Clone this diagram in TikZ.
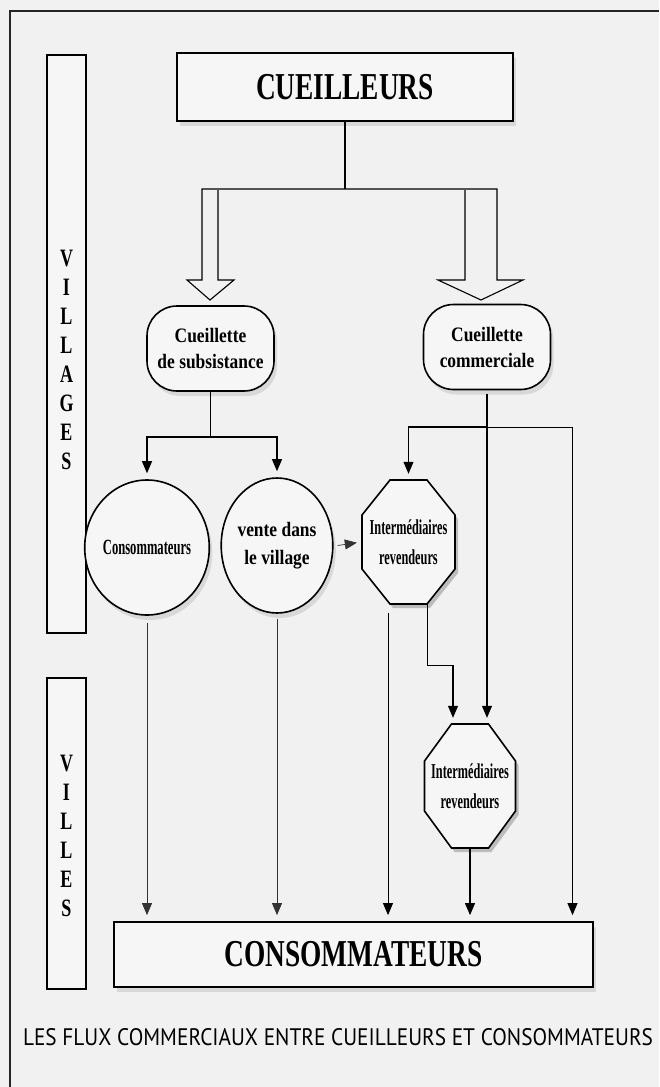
\documentclass[tikz,border=0pt]{standalone}
\usepackage{graphicx}
\usepackage{fontspec}
\setmainfont{Liberation Serif}
\newfontfamily\titlefont[FakeStretch=0.72]{Liberation Serif}
\newfontfamily\midfont[FakeStretch=0.85]{Liberation Serif}
\newfontfamily\narrowfont[FakeStretch=0.58]{Liberation Serif}
\setsansfont{PT Sans}
\usetikzlibrary{arrows.meta,shapes.geometric,shadows,calc}
\definecolor{bgcol}{gray}{0.945}
\definecolor{nodefill}{gray}{0.965}
\begin{document}
\begin{tikzpicture}[x=1pt,y=-1pt,
  shade/.style={drop shadow={shadow xshift=3pt,shadow yshift=-5pt,opacity=0.22}},
  bigbox/.style={draw,line width=1.8pt,fill=nodefill,shade,inner sep=0pt,
    font=\titlefont\bfseries\fontsize{38}{40}\selectfont},
  sidebar/.style={draw,line width=1.8pt,fill=nodefill},
  sidetext/.style={align=center,inner sep=0pt,
    font=\titlefont\bfseries\fontsize{25}{29}\selectfont},
  roundbox/.style={draw,line width=1.6pt,rounded corners=30pt,fill=nodefill,shade,
    minimum width=127pt,minimum height=85pt,align=center,inner sep=0pt,
    font=\midfont\bfseries\fontsize{20.5}{26}\selectfont},
  ovalnode/.style={ellipse,draw,line width=1.6pt,fill=nodefill,shade,
    minimum width=95pt,minimum height=135pt,align=center,inner sep=0pt},
  octnode/.style={minimum width=93pt,minimum height=124pt,align=center,inner sep=0pt,
    font=\narrowfont\bfseries\fontsize{21.2}{30}\selectfont},
  octo/.style={draw,line width=1.6pt,fill=nodefill},
  octshade/.style={fill=black,opacity=0.22},
  blockarrow/.style={line width=1.1pt,line join=miter},
  link/.style={line width=1.1pt},
  flow/.style={line width=1.1pt,-{Triangle[width=10pt,length=12pt]},shorten >=6pt},
  midflow/.style={line width=0.9pt,-{Triangle[width=10pt,length=12pt]},shorten >=6pt},
  thinflow/.style={line width=0.7pt,draw=black!80,-{Triangle[width=10pt,length=12pt]},shorten >=6pt}
]
\fill[bgcol] (0,0) rectangle (659,1087);
\useasboundingbox (0,0) rectangle (659,1087);

% outer frame
\draw[line width=1.3pt,black!85] (10,1087) -- (10,11) -- (659,11);

% side bars
\draw[sidebar] (47,55) rectangle (86,633);
\node[sidetext] (villages) at (66.5,360) {V\\I\\L\\L\\A\\G\\E\\S};
\draw[sidebar] (47,678) rectangle (86,989);
\node[sidetext] (villes) at (66.5,836) {V\\I\\L\\L\\E\\S};

% main boxes
\node[bigbox,minimum width=336pt,minimum height=68pt] (cue) at (345,87) {CUEILLEURS};
\node[bigbox,minimum width=479pt,minimum height=65pt] (cons) at (353.5,954.5) {CONSOMMATEURS};

\node[roundbox] (sub) at (210.5,348.5) {Cueillette\\de subsistance};
\node[roundbox] (com) at (487,347) {Cueillette\\commerciale};

\node[ovalnode,font=\narrowfont\bfseries\fontsize{21.7}{24}\selectfont] (conso) at (147,547.5) {Consommateurs};
\node[ovalnode,minimum width=93pt,font=\midfont\bfseries\fontsize{20.5}{28}\selectfont] (vente) at (277,545.5) {vente dans\\le village};

% octagons
\begin{scope}[shift={(408.5,542)}]
  \fill[octshade,xshift=3pt,yshift=-4pt] (-18.5,-62) -- (18.5,-62) -- (46.5,-27) -- (46.5,27) -- (18.5,62) -- (-18.5,62) -- (-46.5,27) -- (-46.5,-27) -- cycle;
  \draw[octo] (-18.5,-62) -- (18.5,-62) -- (46.5,-27) -- (46.5,27) -- (18.5,62) -- (-18.5,62) -- (-46.5,27) -- (-46.5,-27) -- cycle;
\end{scope}
\node[octnode] (oct1) at (408.5,542) {Intermédiaires\\revendeurs};

\begin{scope}[shift={(470,786)}]
  \fill[octshade,xshift=3pt,yshift=-4pt] (-18.5,-62) -- (18.5,-62) -- (45.5,-25) -- (45.5,25) -- (18.5,62) -- (-18.5,62) -- (-45.5,25) -- (-45.5,-25) -- cycle;
  \draw[octo] (-18.5,-62) -- (18.5,-62) -- (45.5,-25) -- (45.5,25) -- (18.5,62) -- (-18.5,62) -- (-45.5,25) -- (-45.5,-25) -- cycle;
\end{scope}
\node[octnode,minimum width=91pt] (oct2) at (470,786) {Intermédiaires\\revendeurs};

% block arrows from CUEILLEURS
\coordinate (top) at (345,189);
\draw[link] (cue.south) -- (top);
\draw[blockarrow] (218,190) -- (218,280) -- (234,280) -- (210,300) -- (187,280) -- (202,280)
  -- (202,189) -- (497,189) -- (497,280) -- (523,280) -- (481,300) -- (438,280)
  -- (465,280) -- (465,190);

% subsistance branch
\coordinate (sj) at (210.5,437);
\draw[link] (sub.south) -- (sj);
\draw[flow] (sj) -| (conso.north);
\draw[flow] (sj) -| (vente.north);

% vente -> intermediaires
\draw[thinflow,shorten >=5pt] ([xshift=4pt]vente.east) -- (oct1.west);

% commerciale branch
\coordinate (hj) at (487,427);
\coordinate (rr) at (572.5,427);
\draw[flow] ([yshift=-4pt]com.south) -- (com.south |- oct2.north);
\draw[flow] (hj) -| (oct1.north);
\draw[midflow] (hj) -- (rr) -- (rr |- cons.north);

% from first intermediaries
\draw[midflow] ([xshift=-20.5pt,yshift=-9pt]oct1.south) -- ([xshift=-20.5pt]oct1.south |- cons.north);
\draw[flow] ([xshift=19pt]oct1.south) -- ++(0,61) -| ([xshift=-17pt]oct2.north);

% to consumers
\draw[thinflow] ([yshift=-7pt]conso.south) -- (conso.south |- cons.north);
\draw[thinflow] ([yshift=-5pt]vente.south) -- (vente.south |- cons.north);
\draw[flow] (oct2.south) -- (oct2.south |- cons.north);

% caption
\node[inner sep=0pt] (caption) at (338,1037) {\resizebox{630pt}{17pt}{\sffamily LES FLUX COMMERCIAUX ENTRE CUEILLEURS ET CONSOMMATEURS}};
\end{tikzpicture}
\end{document}
